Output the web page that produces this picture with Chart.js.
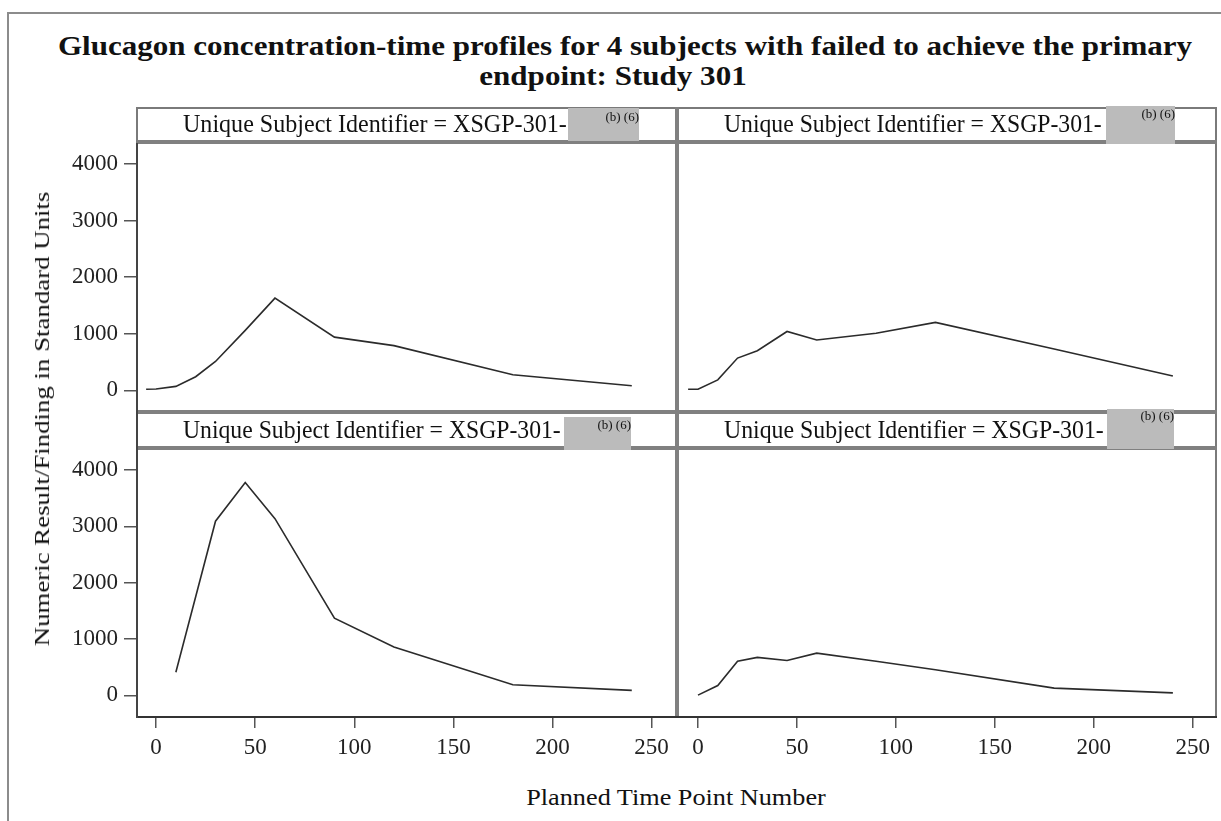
<!DOCTYPE html>
<html>
<head>
<meta charset="utf-8">
<script src="https://cdn.jsdelivr.net/npm/chart.js@4.4.1/dist/chart.umd.min.js"></script>
<style>
  html, body { margin: 0; padding: 0; background: #fff; }
  #page { position: relative; width: 1221px; height: 821px; overflow: hidden;
          font-family: "Liberation Serif", "DejaVu Serif", serif; color: #111; }
  canvas { position: absolute; }
  .box { position: absolute; box-sizing: border-box; }
  .txt { position: absolute; white-space: nowrap; line-height: 1; }
</style>
</head>
<body>
<div id="page">
  <div class="box" style="left:7px;top:12px;width:1230px;height:830px;border:2px solid #8c8c8c;"></div>

  <!-- canvases reach 30px above/below their plot so tick labels never push the plot in -->
  <canvas id="cTL" width="675" height="328" style="left:0;top:113px"></canvas>
  <canvas id="cTR" width="537" height="328" style="left:679px;top:113px"></canvas>
  <canvas id="cBL" width="675" height="357" style="left:0;top:419px"></canvas>
  <canvas id="cBR" width="537" height="357" style="left:679px;top:419px"></canvas>

  <!-- panel frame -->
  <div class="box" style="left:136px;top:107px;width:1081px;height:611px;border:2px solid #7a7a7a;"></div>
  <div class="box" style="left:137px;top:140px;width:1080px;height:4px;background:#808080;"></div>
  <div class="box" style="left:137px;top:410px;width:1080px;height:4px;background:#808080;"></div>
  <div class="box" style="left:137px;top:446px;width:1080px;height:4px;background:#808080;"></div>
  <div class="box" style="left:675px;top:107px;width:4px;height:611px;background:#808080;"></div>
  <div class="box" style="left:136px;top:716px;width:1081px;height:2px;background:#333;"></div>
  <div class="box" style="left:136px;top:143px;width:2px;height:575px;background:#444;"></div>

  <!-- redaction boxes -->
  <div class="box" style="left:568px;top:108px;width:71px;height:33px;background:#bbbbbb;"></div>
  <div class="box" style="left:1106px;top:106px;width:69px;height:38px;background:#bbbbbb;"></div>
  <div class="box" style="left:564px;top:417px;width:67px;height:33px;background:#bbbbbb;"></div>
  <div class="box" style="left:1107px;top:409px;width:67px;height:40px;background:#bbbbbb;"></div>
</div>

<script>
// planned time points and glucagon values
const timesTL  = [-5, 0, 10, 20, 30, 45, 60, 90, 120, 180, 240];
const valuesTL = [20, 25, 70, 240, 510, 1060, 1630, 940, 790, 275, 80];

const timesTR  = [-5, 0, 10, 20, 30, 45, 60, 90, 120, 180, 240];
const valuesTR = [20, 20, 185, 570, 700, 1040, 890, 1010, 1200, 730, 255];

const timesBL  = [10, 30, 45, 60, 90, 120, 180, 240];
const valuesBL = [410, 3090, 3775, 3135, 1370, 860, 190, 90];

const timesBR  = [0, 10, 20, 30, 45, 60, 90, 120, 180, 240];
const valuesBR = [5, 175, 605, 675, 620, 750, 605, 455, 130, 45];

const xTicks = [0, 50, 100, 150, 200, 250];
const yTicks = [0, 1000, 2000, 3000, 4000];

const panelTitle = "Unique Subject Identifier = XSGP-301-";
const redacted = "(b) (6)";

const X_MIN = -9.6, X_MAX = 261.8;
const Y_MIN = -365, Y_MAX = 4370;

function axis(show, min, max, ticks, dir) {
  return {
    type: "linear",
    display: show,
    min: min,
    max: max,
    afterBuildTicks: (s) => { s.ticks = ticks.map((v) => ({ value: v })); },
    afterFit: (s) => {
      if (!show) return;
      if (dir === "y") s.width = 137; else s.height = 60;
    },
    ticks: {
      font: { family: "Liberation Serif", size: 23 },
      color: "#222",
      padding: 6,
      maxRotation: 0,
      autoSkip: false,
      callback: (v) => String(v),
    },
    grid: {
      drawOnChartArea: false,
      drawTicks: true,
      tickLength: dir === "y" ? 13 : 12,
      color: "#555",
      lineWidth: 1.5,
    },
    border: { display: false },
  };
}

function makePanel(id, times, values, showX, showY) {
  const ctx = document.getElementById(id).getContext("2d");
  return new Chart(ctx, {
    type: "line",
    data: {
      datasets: [{
        data: times.map((t, i) => ({ x: t, y: values[i] })),
        borderColor: "#2b2b2b",
        borderWidth: 1.6,
        pointRadius: 0,
        tension: 0,
        fill: false,
      }],
    },
    options: {
      responsive: false,
      animation: false,
      devicePixelRatio: 1,
      layout: { padding: { top: 30, bottom: showX ? 0 : 30, left: 0, right: 0 } },
      plugins: { legend: { display: false }, tooltip: { enabled: false } },
      scales: {
        x: axis(showX, X_MIN, X_MAX, xTicks, "x"),
        y: axis(showY, Y_MIN, Y_MAX, yTicks, "y"),
      },
    },
  });
}

makePanel("cTL", timesTL, valuesTL, false, true);
makePanel("cTR", timesTR, valuesTR, false, false);
makePanel("cBL", timesBL, valuesBL, true, true);
makePanel("cBR", timesBR, valuesBR, true, false);

// text helpers: centred text stretched to the width seen in the picture
const page = document.getElementById("page");
function text(str, cx, cy, width, size, opts) {
  opts = opts || {};
  const el = document.createElement("div");
  el.className = "txt";
  el.textContent = str;
  el.style.fontSize = size + "px";
  if (opts.bold) el.style.fontWeight = "bold";
  page.appendChild(el);
  const k = opts.k || (width ? width / el.offsetWidth : 1);
  el.style.left = cx + "px";
  el.style.top = cy + "px";
  const rot = opts.rotate ? " rotate(" + opts.rotate + ")" : "";
  el.style.transform = "translate(-50%,-50%)" + rot + " scaleX(" + k + ")";
  return k;
}
function leftText(str, x, cy, width, size) {
  const el = document.createElement("div");
  el.className = "txt";
  el.textContent = str;
  el.style.fontSize = size + "px";
  page.appendChild(el);
  const k = width / el.offsetWidth;
  el.style.left = x + "px";
  el.style.top = cy + "px";
  el.style.transformOrigin = "0 50%";
  el.style.transform = "translateY(-50%) scaleX(" + k + ")";
}
function smallText(str, right, top) {
  const el = document.createElement("div");
  el.className = "txt";
  el.textContent = str;
  el.style.fontSize = "13px";
  el.style.right = (1221 - right) + "px";
  el.style.top = top + "px";
  page.appendChild(el);
}

const k1 = text("Glucagon concentration-time profiles for 4 subjects with failed to achieve the primary",
  625, 46, 1134, 28, { bold: true });
text("endpoint: Study 301", 613, 76, null, 28, { bold: true, k: k1 });

leftText(panelTitle, 183, 124, 384, 26);
leftText(panelTitle, 724, 124, 378, 26);
leftText(panelTitle, 183, 430, 378, 26);
leftText(panelTitle, 724, 430, 380, 26);

smallText(redacted, 639, 110);
smallText(redacted, 1175, 107);
smallText(redacted, 631, 418);
smallText(redacted, 1174, 409);

text("Numeric Result/Finding in Standard Units", 42, 419, 455, 22, { rotate: "-90deg" });
text("Planned Time Point Number", 676, 797, 300, 23);
</script>
</body>
</html>
